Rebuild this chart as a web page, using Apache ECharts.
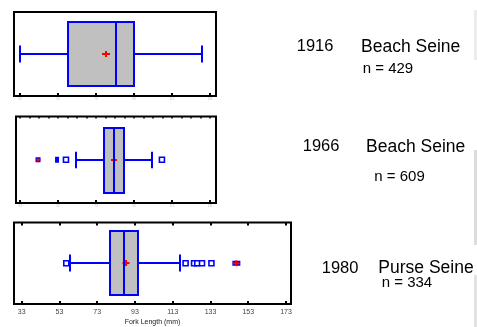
<!DOCTYPE html>
<html><head><meta charset="utf-8">
<script src="https://cdn.jsdelivr.net/npm/echarts@6/dist/echarts.min.js"></script>
<style>html,body{margin:0;padding:0;background:#fff}#c{width:477px;height:327px}</style>
</head><body><div id="c"></div><script>
// ---- data ----
const years = ['1916', '1966', '1980'];
const gears = ['Beach Seine', 'Beach Seine', 'Purse Seine'];
const sampleSizes = [429, 609, 334];
const whiskerLow = [33.0, 62.5, 58.6];
const quartile1 = [58.3, 77.1, 79.8];
const medians = [83.4, 82.4, 87.0];
const quartile3 = [93.0, 87.7, 94.4];
const whiskerHigh = [128.8, 102.5, 116.8];
const means = [78.3, 82.5, 88.3];
const outliersOpen = [[], [57.2, 107.7], [56.6, 119.8, 124.3, 126.0, 128.5, 133.5]];
const outliersFilled = [[], [52.5], []];
const outliersExtreme = [[], [42.5], [146.7]];
const tickValuesShort = [33, 53, 73, 93, 113, 133];
const tickValuesLong = [33, 53, 73, 93, 113, 133, 153, 173];
const minorTickValues = [33, 38, 43, 48, 53, 58, 63, 68, 73, 78, 83, 88, 93, 98, 103, 108, 113, 118, 123, 128, 133];
const axisTitle = 'Fork Length (mm)';

// ---- layout ----
const layout = [
  { left: 14, top: 12, width: 202, height: 84, min: 29.84, max: 136.16, half: 32, cap: 8.5, plusW: 8, plusH: 6 },
  { left: 16, top: 116.5, width: 200, height: 86.5, min: 30.9, max: 136.16, half: 32.3, cap: 8.3, plusW: 6, plusH: 6 },
  { left: 14, top: 222.5, width: 277, height: 82.5, min: 28.9, max: 175.65, half: 32.2, cap: 8.6, plusW: 7, plusH: 6 }
];
const BLUE = '#0000ff', RED = '#ff0000', GRAY = '#c0c0c0';
const PLUS = 'path://M0,2H3V0H5V2H8V4H5V6H3V4H0Z';

const grids = [], xAxes = [], yAxes = [], series = [];
layout.forEach((L, i) => {
  grids.push({ left: L.left, top: L.top, width: L.width, height: L.height, show: true,
    borderColor: '#000', borderWidth: 2, backgroundColor: 'transparent' });
  const isLast = i === 2;
  const ticks = isLast ? tickValuesLong : tickValuesShort;
  xAxes.push({
    type: 'value', gridIndex: i, position: 'bottom', min: L.min, max: L.max,
    axisLine: { show: false, onZero: false }, splitLine: { show: false },
    axisTick: { show: true, inside: true, length: 3, customValues: ticks, lineStyle: { color: '#000', width: 2 } },
    axisLabel: isLast
      ? { show: true, customValues: ticks, fontSize: 7, color: '#444', margin: 5, fontFamily: 'Liberation Sans, Arial, sans-serif' }
      : { show: true, customValues: ticks, fontSize: 3, color: '#bbb', margin: 2, fontFamily: 'Liberation Sans, Arial, sans-serif' },
    name: isLast ? axisTitle : '', nameLocation: 'middle', nameGap: 15,
    nameTextStyle: { fontSize: 7, color: '#222', fontFamily: 'Liberation Sans, Arial, sans-serif' }
  });
  if (i > 0) {
    xAxes.push({
      type: 'value', gridIndex: i, position: 'top', min: L.min, max: L.max,
      axisLine: { show: false, onZero: false }, splitLine: { show: false }, axisLabel: { show: false },
      axisTick: { show: true, inside: true, length: i === 1 ? 2 : 3,
        customValues: i === 1 ? minorTickValues : tickValuesLong,
        lineStyle: { color: '#000', width: i === 1 ? 1.5 : 2 } }
    });
  }
  yAxes.push({ type: 'value', gridIndex: i, min: -1, max: 1, show: false, axisLine: { onZero: false } });
});

// index of bottom x axis per grid
const bottomAxisIdx = [0, 1, 3];

layout.forEach((L, i) => {
  const xi = bottomAxisIdx[i];
  series.push({
    type: 'custom', xAxisIndex: xi, yAxisIndex: i, coordinateSystem: 'cartesian2d',
    encode: { x: [1, 2, 3, 4, 5, 6], y: 0 },
    data: [[0, whiskerLow[i], quartile1[i], medians[i], quartile3[i], whiskerHigh[i], means[i]]],
    renderItem: function (params, api) {
      const p = k => Math.round(api.coord([api.value(k), 0])[0]);
      const lo = p(1), a = p(2), m = p(3), b = p(4), hi = p(5), mu = p(6);
      const cy = Math.round(api.coord([api.value(1), 0])[1]);
      const ls = { stroke: BLUE, lineWidth: 2, fill: null };
      return {
        type: 'group', children: [
          { type: 'line', shape: { x1: lo, y1: cy, x2: a, y2: cy }, style: ls },
          { type: 'line', shape: { x1: b, y1: cy, x2: hi, y2: cy }, style: ls },
          { type: 'line', shape: { x1: lo, y1: cy - L.cap, x2: lo, y2: cy + L.cap }, style: ls },
          { type: 'line', shape: { x1: hi, y1: cy - L.cap, x2: hi, y2: cy + L.cap }, style: ls },
          { type: 'rect', shape: { x: a, y: Math.round(cy - L.half), width: b - a, height: Math.round(2 * L.half) },
            style: { fill: GRAY, stroke: BLUE, lineWidth: 2 } },
          { type: 'rect', shape: { x: mu - L.plusW / 2, y: cy - 1, width: L.plusW, height: 2 }, style: { fill: RED } },
          { type: 'rect', shape: { x: mu - 1, y: cy - L.plusH / 2, width: 2, height: L.plusH }, style: { fill: RED } },
          { type: 'line', shape: { x1: m, y1: Math.round(cy - L.half), x2: m, y2: Math.round(cy + L.half) }, style: ls }
        ]
      };
    },
    z: 2
  });
  series.push({
    type: 'scatter', xAxisIndex: xi, yAxisIndex: i, symbol: 'rect', symbolSize: [5, 5],
    data: outliersOpen[i].map(v => [v, 0]),
    itemStyle: { color: '#fff', borderColor: BLUE, borderWidth: 1.6, opacity: 1 }, z: 3, silent: true
  });
  series.push({
    type: 'scatter', xAxisIndex: xi, yAxisIndex: i, symbol: 'rect', symbolSize: [4, 6],
    data: outliersFilled[i].map(v => [v, 0]),
    itemStyle: { color: BLUE, opacity: 1 }, z: 3, silent: true
  });
  series.push({
    type: 'scatter', xAxisIndex: xi, yAxisIndex: i, symbol: 'rect', symbolSize: i === 2 ? [8, 5] : [5, 5],
    data: outliersExtreme[i].map(v => [v, 0]),
    itemStyle: { color: BLUE, opacity: 1 }, z: 3, silent: true
  });
  series.push({
    type: 'scatter', xAxisIndex: xi, yAxisIndex: i, symbol: PLUS, symbolSize: i === 2 ? [7, 6] : [5, 5],
    symbolKeepAspect: false,
    data: outliersExtreme[i].map(v => [v, 0]),
    itemStyle: { color: RED, opacity: 1 }, z: 4, silent: true
  });
});

// right-hand annotations
const labelPos = [
  { yx: 296.7, gx: 361, cy: 46.7, nx: 362.7, ny: 69.3 },
  { yx: 302.7, gx: 366, cy: 146.7, nx: 374.3, ny: 176.7 },
  { yx: 321.7, gx: 378.3, cy: 268.3, nx: 381.7, ny: 283.3 }
];
const graphics = [];
const FONT = '"Liberation Sans", Arial, sans-serif';
labelPos.forEach((P, i) => {
  graphics.push({ type: 'text', x: P.yx, y: P.cy, style: { text: years[i], font: '16.5px ' + FONT, fill: '#000', verticalAlign: 'middle' } });
  graphics.push({ type: 'text', x: P.gx, y: P.cy, style: { text: gears[i], font: '17.5px ' + FONT, fill: '#000', verticalAlign: 'middle' } });
  graphics.push({ type: 'text', x: P.nx, y: P.ny, style: { text: 'n = ' + sampleSizes[i], font: '15px ' + FONT, fill: '#000', verticalAlign: 'middle' } });
});
// faint strips on the right edge of the reference image
[[10, 50, '#ececec'], [150, 95, '#dcdcdc'], [275, 52, '#e2e2e2']].forEach(s => {
  graphics.push({ type: 'rect', shape: { x: 474, y: s[0], width: 3, height: s[1] }, style: { fill: s[2] }, silent: true });
});

const chart = echarts.init(document.getElementById('c'), null, { renderer: 'canvas' });
chart.setOption({
  animation: false,
  backgroundColor: '#fff',
  grid: grids, xAxis: xAxes, yAxis: yAxes, series: series, graphic: graphics
});
</script></body></html>
